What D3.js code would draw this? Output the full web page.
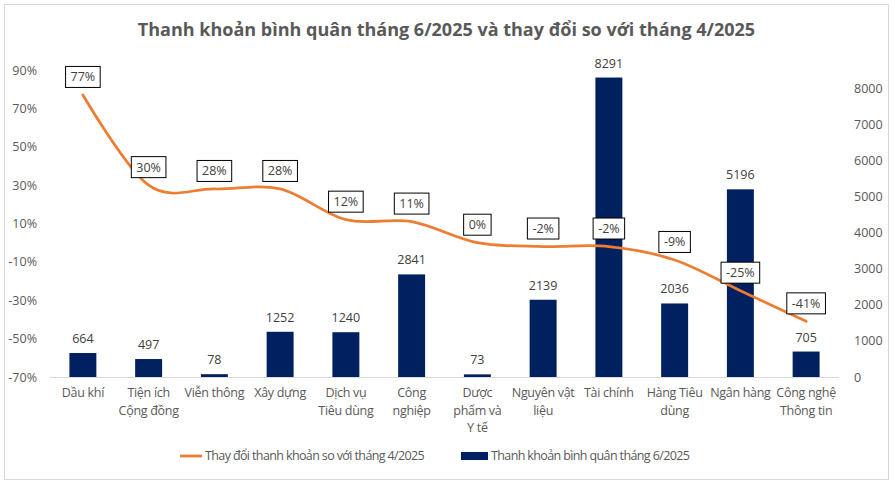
<!DOCTYPE html>
<html>
<head>
<meta charset="utf-8">
<script src="https://cdn.jsdelivr.net/npm/d3@7"></script>
<style>
  html, body { margin: 0; padding: 0; background: #fff; }
  svg { display: block; font-family: "Open Sans", "Noto Sans", sans-serif; }
</style>
</head>
<body>
<svg id="chart" width="895" height="485"></svg>
<script>
const categories = [
  ["Dầu khí"],
  ["Tiện ích", "Cộng đồng"],
  ["Viễn thông"],
  ["Xây dựng"],
  ["Dịch vụ", "Tiêu dùng"],
  ["Công", "nghiệp"],
  ["Dược", "phẩm và", "Y tế"],
  ["Nguyên vật", "liệu"],
  ["Tài chính"],
  ["Hàng Tiêu", "dùng"],
  ["Ngân hàng"],
  ["Công nghệ", "Thông tin"]
];
const liquidity = [664, 497, 78, 1252, 1240, 2841, 73, 2139, 8291, 2036, 5196, 705];
const change = [0.77, 0.30, 0.28, 0.28, 0.12, 0.11, 0.00, -0.02, -0.02, -0.09, -0.25, -0.41];
const leftTicks = [-0.7, -0.5, -0.3, -0.1, 0.1, 0.3, 0.5, 0.7, 0.9];
const rightTicks = [0, 1000, 2000, 3000, 4000, 5000, 6000, 7000, 8000];
const titleText = "Thanh khoản bình quân tháng 6/2025 và thay đổi so với tháng 4/2025";
const legendLine = "Thay đổi thanh khoản so với tháng 4/2025";
const legendBar = "Thanh khoản bình quân tháng 6/2025";

const svg = d3.select("#chart");
const W = 895, H = 485;
const m = { left: 50, right: 56, top: 70, bottom: 108 };
const plotL = m.left, plotR = W - m.right, plotT = m.top, plotB = H - m.bottom;

const navy = "#002060", orange = "#ED7D31", gray = "#595959";
const FS = 12.5, LS = "-0.3px";

// frame
svg.append("rect").attr("x", 4.5).attr("y", 4.5).attr("width", 884).attr("height", 475)
  .attr("fill", "#fff").attr("stroke", "#d9d9d9").attr("stroke-width", 1);

// title
svg.append("text").attr("x", W / 2 - 1).attr("y", 36).attr("text-anchor", "middle")
  .attr("font-size", 18).attr("font-weight", "bold").attr("fill", gray).text(titleText);

const x = d3.scaleBand().domain(d3.range(categories.length)).range([plotL, plotR]).paddingInner(0.59).paddingOuter(0.295);
const xc = i => x(i) + x.bandwidth() / 2;
const yL = d3.scaleLinear().domain([-0.7, 0.9]).range([plotB, plotT]);
const yR = d3.scaleLinear().domain([0, 8500]).range([plotB, plotT]);

// left axis
const axL = d3.axisLeft(yL).tickValues(leftTicks).tickSize(0).tickPadding(0)
  .tickFormat(d => Math.round(d * 100) + "%");
const gL = svg.append("g").attr("transform", `translate(${plotL - 13},0)`).call(axL);
gL.select(".domain").remove();
gL.selectAll("text").attr("font-size", FS).attr("fill", gray).attr("font-family", "Open Sans");

// right axis
const axR = d3.axisRight(yR).tickValues(rightTicks).tickSize(0).tickPadding(0).tickFormat(d3.format("d"));
const gR = svg.append("g").attr("transform", `translate(${plotR + 15},0)`).call(axR);
gR.select(".domain").remove();
gR.selectAll("text").attr("font-size", FS).attr("fill", gray).attr("font-family", "Open Sans");

// baseline
svg.append("line").attr("x1", plotL).attr("x2", plotR).attr("y1", plotB + 0.5).attr("y2", plotB + 0.5)
  .attr("stroke", "#d9d9d9").attr("stroke-width", 1);

// bars
svg.append("g").selectAll("rect").data(liquidity).join("rect")
  .attr("x", (d, i) => x(i)).attr("width", x.bandwidth())
  .attr("y", d => yR(d)).attr("height", d => plotB - yR(d))
  .attr("fill", navy);

svg.append("g").selectAll("text").data(liquidity).join("text")
  .attr("x", (d, i) => xc(i)).attr("y", d => yR(d) - 10)
  .attr("text-anchor", "middle").attr("font-size", FS).attr("fill", "#404040")
  .text(d => d);

// line
const line = d3.line().x((d, i) => xc(i)).y(d => yL(d)).curve(d3.curveCatmullRom.alpha(0));
svg.append("path").datum(change).attr("d", line).attr("fill", "none")
  .attr("stroke", orange).attr("stroke-width", 2.75).attr("stroke-linecap", "round");

// line labels
const lbl = svg.append("g").selectAll("g").data(change).join("g")
  .attr("transform", (d, i) => `translate(${xc(i)},${yL(d) - 18})`);
lbl.each(function (d) {
  const g = d3.select(this);
  const t = g.append("text").attr("text-anchor", "middle").attr("dy", "0.35em")
    .attr("font-size", FS).attr("fill", "#404040").text(Math.round(d * 100) + "%");
  const bb = t.node().getBBox();
  g.insert("rect", "text").attr("x", bb.x - 5).attr("y", -10.5).attr("width", bb.width + 10).attr("height", 21)
    .attr("fill", "#fff").attr("stroke", "#000").attr("stroke-width", 1);
});

// x labels
const xl = svg.append("g").selectAll("text").data(categories).join("text")
  .attr("x", (d, i) => xc(i)).attr("y", plotB + 20)
  .attr("text-anchor", "middle").attr("font-size", FS).attr("letter-spacing", LS).attr("fill", gray);
xl.each(function (d, i) {
  d3.select(this).selectAll("tspan").data(d).join("tspan")
    .attr("x", xc(i)).attr("dy", (s, j) => j === 0 ? 0 : 17.5).text(s => s);
});

// legend
const lg = svg.append("g").attr("transform", "translate(0,456)");
lg.append("line").attr("x1", 180).attr("x2", 202).attr("y1", 0).attr("y2", 0)
  .attr("stroke", orange).attr("stroke-width", 2.75);
lg.append("text").attr("x", 205).attr("y", 0).attr("dy", "0.35em").attr("font-size", FS)
  .attr("letter-spacing", "-0.62px").attr("fill", gray).text(legendLine);
lg.append("rect").attr("x", 461).attr("y", -4).attr("width", 27).attr("height", 8).attr("fill", navy);
lg.append("text").attr("x", 491).attr("y", 0).attr("dy", "0.35em").attr("font-size", FS)
  .attr("letter-spacing", "-0.62px").attr("fill", gray).text(legendBar);
</script>
</body>
</html>
